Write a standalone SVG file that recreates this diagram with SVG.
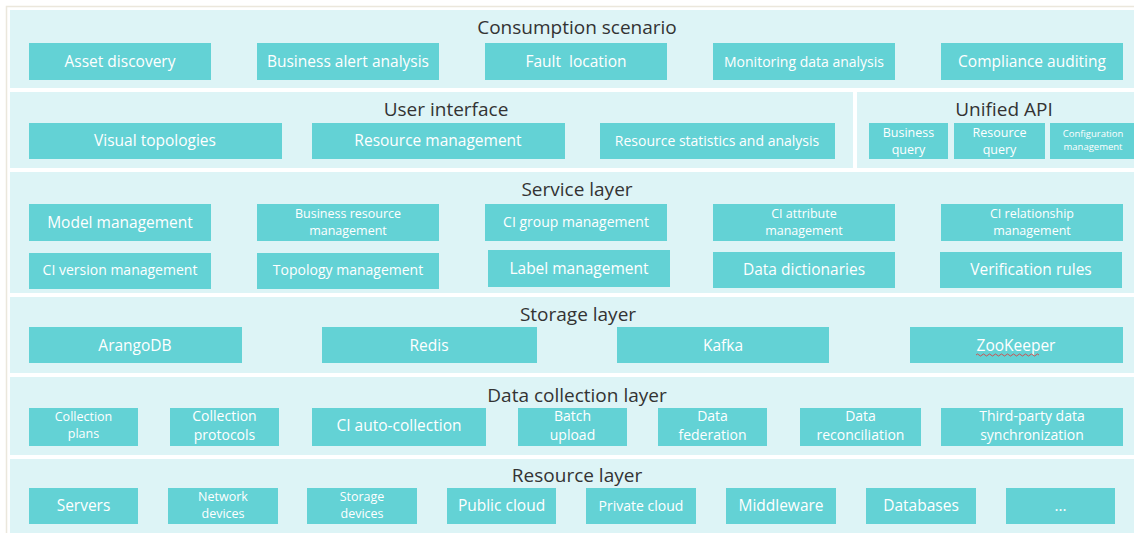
<svg xmlns="http://www.w3.org/2000/svg" width="1134" height="533" viewBox="0 0 1134 533">
<style>
.panel{fill:#ddf4f6}
.box{fill:#63d2d5}
.t{font-family:"Open Sans","Noto Sans",sans-serif;fill:#ffffff;text-anchor:middle;font-size:15.5px}
.s{font-size:14px}
.m{font-size:14px}
.s2{font-size:12.5px}
.xs{font-size:9.5px}
.h{font-family:"Open Sans","Noto Sans",sans-serif;fill:#333333;text-anchor:middle;font-size:19px}
</style>
<rect x="0" y="0" width="1134" height="533" fill="#ffffff"/>
<rect x="6.5" y="6.5" width="1140" height="540" fill="none" stroke="#ebe7dc" stroke-width="1.5"/>
<g id="layers">
<rect class="panel" x="10" y="10" width="1124" height="78"/>
<rect class="panel" x="10" y="92" width="843" height="76"/>
<rect class="panel" x="857" y="92" width="277" height="76"/>
<rect class="panel" x="10" y="172" width="1124" height="121"/>
<rect class="panel" x="10" y="297" width="1124" height="76"/>
<rect class="panel" x="10" y="377" width="1124" height="78"/>
<rect class="panel" x="10" y="459" width="1124" height="74"/>
<text class="h" x="577" y="34">Consumption scenario</text>
<text class="h" x="446" y="116">User interface</text>
<text class="h" x="1004" y="116">Unified API</text>
<text class="h" x="577" y="196">Service layer</text>
<text class="h" x="578" y="321">Storage layer</text>
<text class="h" x="577" y="402">Data collection layer</text>
<text class="h" x="577" y="482">Resource layer</text>
</g>
<g id="consumption">
<g id="n-asset"><rect class="box" x="29" y="43" width="182" height="37"/><text class="t" x="120" y="67">Asset discovery</text></g>
<g id="n-bizalert"><rect class="box" x="257" y="43" width="182" height="37"/><text class="t" x="348" y="67">Business alert analysis</text></g>
<g id="n-fault"><rect class="box" x="485" y="43" width="182" height="37"/><text class="t" x="576" y="67" xml:space="preserve">Fault  location</text></g>
<g id="n-monitor"><rect class="box" x="713" y="43" width="182" height="37"/><text class="t s" x="804" y="67">Monitoring data analysis</text></g>
<g id="n-compliance"><rect class="box" x="941" y="43" width="182" height="37"/><text class="t" x="1032" y="67">Compliance auditing</text></g>
</g>
<g id="ui">
<g id="n-visual"><rect class="box" x="29" y="123" width="253" height="36"/><text class="t" x="155" y="146">Visual topologies</text></g>
<g id="n-resmgmt"><rect class="box" x="312" y="123" width="253" height="36"/><text class="t" x="438" y="146">Resource management</text></g>
<g id="n-resstat"><rect class="box" x="600" y="123" width="235" height="36"/><text class="t s" x="717" y="146">Resource statistics and analysis</text></g>
<g id="n-bizq"><rect class="box" x="869" y="123" width="79" height="36"/><text class="t s2" x="908.5" y="137">Business</text><text class="t s2" x="908.5" y="154">query</text></g>
<g id="n-resq"><rect class="box" x="954" y="123" width="91" height="36"/><text class="t s2" x="999.5" y="137">Resource</text><text class="t s2" x="999.5" y="154">query</text></g>
<g id="n-cfg"><rect class="box" x="1050" y="123" width="84" height="36"/><text class="t xs" x="1093" y="137">Configuration</text><text class="t xs" x="1093" y="150">management</text></g>
</g>
<g id="service">
<g id="n-model"><rect class="box" x="29" y="204" width="182" height="37"/><text class="t" x="120" y="228">Model management</text></g>
<g id="n-bizres"><rect class="box" x="257" y="204" width="182" height="37"/><text class="t s2" x="348" y="218">Business resource</text><text class="t s2" x="348" y="235">management</text></g>
<g id="n-cigroup"><rect class="box" x="485" y="204" width="182" height="37"/><text class="t s" x="576" y="227">CI group management</text></g>
<g id="n-ciattr"><rect class="box" x="713" y="204" width="182" height="37"/><text class="t s2" x="804" y="218">CI attribute</text><text class="t s2" x="804" y="235">management</text></g>
<g id="n-cirel"><rect class="box" x="941" y="204" width="182" height="37"/><text class="t s2" x="1032" y="218">CI relationship</text><text class="t s2" x="1032" y="235">management</text></g>
<g id="n-civer"><rect class="box" x="29" y="253" width="182" height="36"/><text class="t s" x="120" y="275">CI version management</text></g>
<g id="n-topo"><rect class="box" x="257" y="253" width="182" height="36"/><text class="t s" x="348" y="275">Topology management</text></g>
<g id="n-label"><rect class="box" x="488" y="250" width="182" height="37"/><text class="t" x="579" y="274">Label management</text></g>
<g id="n-dict"><rect class="box" x="713" y="252" width="182" height="36"/><text class="t" x="804" y="275">Data dictionaries</text></g>
<g id="n-verif"><rect class="box" x="940" y="252" width="182" height="36"/><text class="t" x="1031" y="275">Verification rules</text></g>
</g>
<g id="storage">
<g id="n-arango"><rect class="box" x="29" y="327" width="213" height="36"/><text class="t" x="135" y="351">ArangoDB</text></g>
<g id="n-redis"><rect class="box" x="322" y="327" width="215" height="36"/><text class="t" x="429" y="351">Redis</text></g>
<g id="n-kafka"><rect class="box" x="617" y="327" width="212" height="36"/><text class="t" x="723" y="351">Kafka</text></g>
<g id="n-zk"><rect class="box" x="910" y="327" width="213" height="36"/><text class="t" x="1016" y="351">ZooKeeper</text><path d="M976 355 q1.5 -2 3 0 t3 0 t3 0 t3 0 t3 0 t3 0 t3 0 t3 0 t3 0 t3 0 t3 0 t3 0 t3 0 t3 0 t3 0 t3 0 t3 0 t3 0 t3 0 t3 0 t3 0" fill="none" stroke="#d64545" stroke-width="0.9"/></g>
</g>
<g id="collection">
<g id="n-cplans"><rect class="box" x="29" y="408" width="109" height="38"/><text class="t s2" x="83.5" y="421">Collection</text><text class="t s2" x="83.5" y="438">plans</text></g>
<g id="n-cprot"><rect class="box" x="170" y="408" width="109" height="38"/><text class="t m" x="224.5" y="421">Collection</text><text class="t m" x="224.5" y="440">protocols</text></g>
<g id="n-ciauto"><rect class="box" x="312" y="408" width="174" height="38"/><text class="t" x="399" y="431">CI auto-collection</text></g>
<g id="n-batch"><rect class="box" x="518" y="408" width="109" height="38"/><text class="t m" x="572.5" y="421">Batch</text><text class="t m" x="572.5" y="440">upload</text></g>
<g id="n-fed"><rect class="box" x="658" y="408" width="109" height="38"/><text class="t m" x="712.5" y="421">Data</text><text class="t m" x="712.5" y="440">federation</text></g>
<g id="n-recon"><rect class="box" x="800" y="408" width="121" height="38"/><text class="t m" x="860.5" y="421">Data</text><text class="t m" x="860.5" y="440">reconciliation</text></g>
<g id="n-third"><rect class="box" x="941" y="408" width="182" height="38"/><text class="t m" x="1032" y="421">Third-party data</text><text class="t m" x="1032" y="440">synchronization</text></g>
</g>
<g id="resource">
<g id="n-servers"><rect class="box" x="29" y="488" width="109" height="36"/><text class="t" x="83.5" y="511">Servers</text></g>
<g id="n-net"><rect class="box" x="168" y="488" width="110" height="36"/><text class="t s2" x="223" y="501">Network</text><text class="t s2" x="223" y="518">devices</text></g>
<g id="n-stor"><rect class="box" x="307" y="488" width="110" height="36"/><text class="t s2" x="362" y="501">Storage</text><text class="t s2" x="362" y="518">devices</text></g>
<g id="n-pub"><rect class="box" x="447" y="488" width="109" height="36"/><text class="t" x="501.5" y="511">Public cloud</text></g>
<g id="n-priv"><rect class="box" x="586" y="488" width="110" height="36"/><text class="t s" x="641" y="511">Private cloud</text></g>
<g id="n-mid"><rect class="box" x="726" y="488" width="110" height="36"/><text class="t" x="781" y="511">Middleware</text></g>
<g id="n-db"><rect class="box" x="866" y="488" width="110" height="36"/><text class="t" x="921" y="511">Databases</text></g>
<g id="n-more"><rect class="box" x="1006" y="488" width="109" height="36"/><text class="t" x="1060.5" y="511">...</text></g>
</g>
<g id="connectors"/>
</svg>
